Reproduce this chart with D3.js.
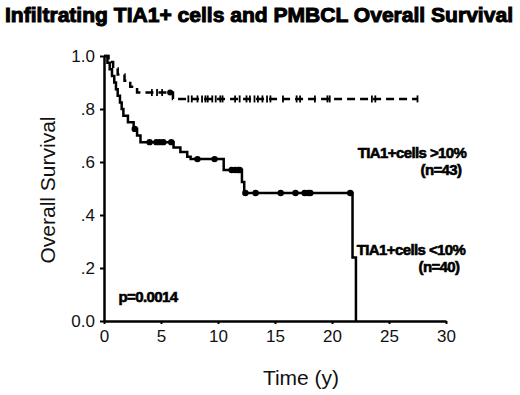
<!DOCTYPE html>
<html>
<head>
<meta charset="utf-8">
<script src="https://cdn.jsdelivr.net/npm/d3@7"></script>
<style>
  body { margin: 0; background: #fff; }
  text { font-family: "Liberation Sans", Arial, sans-serif; }
</style>
</head>
<body>
<div id="chart"></div>
<script>
// Datos (tiempo en años, supervivencia)
const xTicks = [0, 5, 10, 15, 20, 25, 30];
const yTicks = [0, 0.2, 0.4, 0.6, 0.8, 1.0];
const yTickLabels = ['0.0', '.2', '.4', '.6', '.8', '1.0'];

// TIA1+ cells > 10% (n=43), línea discontinua
const highTimes = [0.4, 0.8, 1.2, 1.8, 2.3, 2.9, 6.05];
const highSurv = [0.977, 0.953, 0.930, 0.907, 0.884, 0.862, 0.838];
const highEnd = 27.5;
const highCensor = [4.2, 4.65, 5.1, 7.4, 7.7, 8.2, 8.6, 8.9, 9.1, 9.5, 9.8, 10.2, 10.4,
  11.5, 11.9, 12.5, 12.8, 13.2, 13.5, 13.9, 14.3, 14.6, 15.7, 16.9, 17.2, 18.5,
  19.6, 19.8, 23.5, 23.8, 27.5];
const highDots = [5.8];

// TIA1+ cells < 10% (n=40), línea continua
const lowTimes = [0.3, 0.5, 0.7, 0.9, 1.05, 1.2, 1.4, 1.55, 1.7, 2.1, 2.6, 2.9, 3.2,
  6.1, 6.7, 7.3, 7.6, 10.5, 12.1, 12.3, 21.8, 22.1];
const lowSurv = [0.975, 0.95, 0.925, 0.9, 0.875, 0.85, 0.825, 0.80, 0.775, 0.75, 0.725,
  0.70, 0.675, 0.655, 0.638, 0.62, 0.611, 0.57, 0.525, 0.483, 0.24, 0];
const lowCensor = [2.7, 4.0, 4.6, 4.9, 5.2, 5.9, 8.2, 9.7, 11.2, 11.5, 11.75, 11.9,
  12.4, 13.3, 15.5, 16.8, 17.6, 17.9, 18.1, 21.6];

const width = 520;
const height = 395;

const svg = d3.select('#chart')
  .append('svg')
  .attr('width', width)
  .attr('height', height);

const x = d3.scaleLinear().domain([0, 30]).range([104, 446]);
const y = d3.scaleLinear().domain([0, 1]).range([321, 56]);

// Título
svg.append('text')
  .attr('x', 5)
  .attr('y', 22)
  .attr('textLength', 508)
  .attr('lengthAdjust', 'spacingAndGlyphs')
  .style('font-size', '21px')
  .style('font-weight', 'bold')
  .style('stroke', '#000')
  .style('stroke-width', 1)
  .text('Infiltrating TIA1+ cells and PMBCL Overall Survival');

// Ejes
const xAxis = svg.append('g')
  .attr('transform', `translate(0, ${y(0)})`)
  .call(d3.axisBottom(x).tickValues(xTicks).tickSize(3).tickPadding(6).tickSizeOuter(0));
const yAxis = svg.append('g')
  .attr('transform', `translate(${x(0)}, 0)`)
  .call(d3.axisLeft(y).tickValues(yTicks).tickSize(4).tickPadding(5).tickSizeOuter(0)
    .tickFormat((d, i) => yTickLabels[i]));

[xAxis, yAxis].forEach(g => {
  g.select('.domain').attr('stroke', '#000').attr('stroke-width', 2.5);
  g.selectAll('.tick line').attr('stroke', '#000').attr('stroke-width', 2);
  g.selectAll('.tick text').style('font-size', '17px').attr('fill', '#111')
    .style('font-family', '"Liberation Sans", Arial, sans-serif');
});

// Función escalonada de Kaplan-Meier
function survAt(times, surv, t) {
  let s = 1;
  times.forEach((tt, i) => { if (tt <= t) s = surv[i]; });
  return s;
}

const line = d3.line()
  .x(d => x(d[0]))
  .y(d => y(d[1]))
  .curve(d3.curveStepAfter);

const highPts = [[0, 1]].concat(highTimes.map((t, i) => [t, highSurv[i]]), [[highEnd, highSurv[highSurv.length - 1]]]);
const lowPts = [[0, 1]].concat(lowTimes.map((t, i) => [t, lowSurv[i]]));

svg.append('path')
  .datum(highPts)
  .attr('d', line)
  .attr('fill', 'none')
  .attr('stroke', '#000')
  .attr('stroke-width', 2.5)
  .attr('stroke-dasharray', '8,5');

svg.append('path')
  .datum(lowPts)
  .attr('d', line)
  .attr('fill', 'none')
  .attr('stroke', '#000')
  .attr('stroke-width', 2.5);

// Marcas de censura (grupo alto: cruces)
svg.append('g')
  .selectAll('line')
  .data(highCensor)
  .enter().append('line')
  .attr('x1', d => x(d))
  .attr('x2', d => x(d))
  .attr('y1', d => y(survAt(highTimes, highSurv, d)) - 3.5)
  .attr('y2', d => y(survAt(highTimes, highSurv, d)) + 3.5)
  .attr('stroke', '#000')
  .attr('stroke-width', 1.8);

svg.append('g')
  .selectAll('circle')
  .data(highDots)
  .enter().append('circle')
  .attr('cx', d => x(d))
  .attr('cy', d => y(survAt(highTimes, highSurv, d)))
  .attr('r', 3)
  .attr('fill', '#000');

// Marcas de censura (grupo bajo: puntos)
svg.append('g')
  .selectAll('circle')
  .data(lowCensor)
  .enter().append('circle')
  .attr('cx', d => x(d))
  .attr('cy', d => y(survAt(lowTimes, lowSurv, d)))
  .attr('r', 3.2)
  .attr('fill', '#000');

// Etiquetas de los ejes
svg.append('text')
  .attr('transform', 'translate(55, 190) rotate(-90)')
  .attr('text-anchor', 'middle')
  .style('font-size', '21px')
  .attr('fill', '#111')
  .text('Overall Survival');

svg.append('text')
  .attr('x', 301)
  .attr('y', 385)
  .attr('text-anchor', 'middle')
  .style('font-size', '21px')
  .attr('fill', '#111')
  .text('Time (y)');

// Anotaciones
const notes = [
  { t: 'TIA1+cells >10%', x: 412, y: 158 },
  { t: '(n=43)', x: 441, y: 175 },
  { t: 'TIA1+cells <10%', x: 411, y: 255 },
  { t: '(n=40)', x: 439, y: 272 },
  { t: 'p=0.0014', x: 148, y: 302 }
];
svg.append('g')
  .selectAll('text')
  .data(notes)
  .enter().append('text')
  .attr('x', d => d.x)
  .attr('y', d => d.y)
  .attr('text-anchor', 'middle')
  .style('font-size', '15px')
  .style('font-weight', 'bold')
  .style('stroke', '#000')
  .style('stroke-width', 0.6)
  .style('letter-spacing', '-0.6px')
  .text(d => d.t);
</script>
</body>
</html>
